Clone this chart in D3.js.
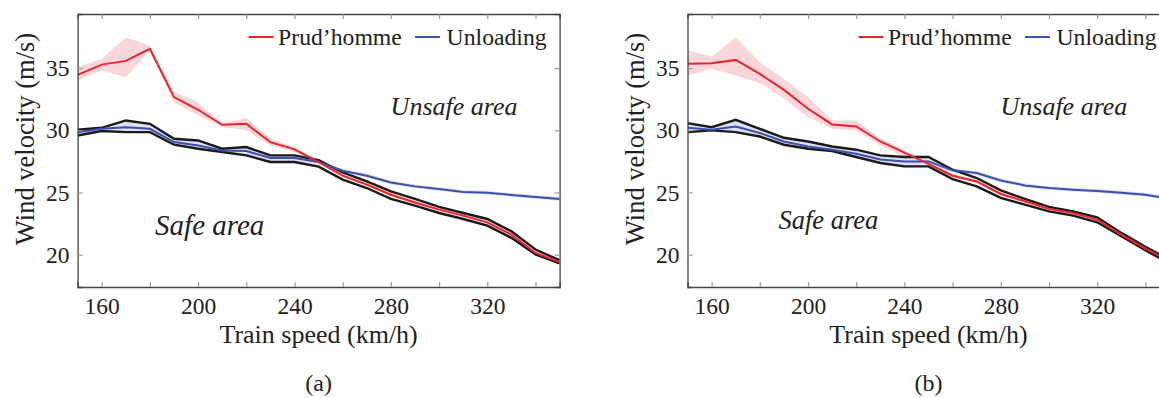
<!DOCTYPE html>
<html>
<head>
<meta charset="utf-8">
<script src="https://cdn.jsdelivr.net/npm/d3@7"></script>
<style>
  body { margin: 0; background: #fff; }
  svg text { font-family: "Liberation Serif", "Times New Roman", serif; fill: #222; }
</style>
</head>
<body>
<div class="graphContainer"></div>
<script>
// train speed (km/h)
var speeds = [150, 160, 170, 180, 190, 200, 210, 220, 230, 240, 250, 260, 270, 280, 290, 300, 310, 320, 330, 340, 350];
var xTicks = [160, 180, 200, 220, 240, 260, 280, 300, 320, 340];
var xLabels = [160, 200, 240, 280, 320];
var yTicks = [20, 25, 30, 35];

// panel (a)
var aRed    = [34.45, 35.28, 35.58, 36.54, 32.67, 31.65, 30.44, 30.52, 29.05, 28.47, 27.45, 26.35, 25.63, 24.82, 24.2, 23.62, 23.14, 22.6, 21.61, 20.14, 19.4];
var aRedHi  = [35.07, 35.74, 37.48, 36.8, 33.07, 32.26, 30.52, 31.0, 29.32, 28.65, 27.6, 26.5, 25.78, 24.97, 24.35, 23.77, 23.29, 22.75, 21.76, 20.29, 19.55];
var aRedLo  = [34.0, 34.8, 34.27, 36.4, 32.26, 31.19, 30.25, 30.0, 28.78, 28.25, 27.3, 26.2, 25.48, 24.67, 24.05, 23.47, 22.99, 22.45, 21.46, 19.99, 19.25];
var aBlue   = [29.85, 30.12, 30.25, 30.12, 29.05, 28.78, 28.38, 28.33, 27.77, 27.77, 27.45, 26.75, 26.35, 25.81, 25.49, 25.28, 25.04, 24.98, 24.8, 24.64, 24.48];
var aBlueHi = [30.04, 30.2, 30.79, 30.52, 29.32, 29.18, 28.52, 28.65, 27.98, 27.98, 27.6, 26.9, 26.5, 25.96, 25.64, 25.43, 25.19, 25.13, 24.95, 24.79, 24.63];
var aBlueLo = [29.58, 29.94, 29.85, 29.85, 28.84, 28.52, 28.25, 27.98, 27.45, 27.45, 27.2, 26.6, 26.2, 25.66, 25.34, 25.13, 24.89, 24.83, 24.65, 24.49, 24.33];
var aEnvHi  = [30.04, 30.2, 30.79, 30.52, 29.32, 29.18, 28.52, 28.65, 27.98, 27.98, 27.6, 26.61, 25.89, 25.09, 24.48, 23.84, 23.35, 22.87, 21.88, 20.41, 19.55];
var aEnvLo  = [29.58, 29.94, 29.85, 29.85, 28.84, 28.52, 28.25, 27.98, 27.45, 27.45, 27.08, 26.03, 25.36, 24.48, 23.94, 23.35, 22.87, 22.34, 21.35, 20.01, 19.29];

// panel (b)
var bRed    = [35.34, 35.39, 35.66, 34.53, 33.25, 31.73, 30.47, 30.31, 29.1, 28.2, 27.3, 26.35, 25.89, 24.88, 24.29, 23.68, 23.35, 22.82, 21.61, 20.49, 19.5];
var bRedHi  = [36.46, 35.92, 37.48, 35.47, 34.13, 32.67, 30.79, 30.79, 29.32, 28.38, 27.45, 26.5, 26.04, 25.03, 24.44, 23.83, 23.5, 22.97, 21.76, 20.64, 19.65];
var bRedLo  = [34.4, 34.94, 34.4, 33.79, 32.53, 31.06, 30.12, 29.99, 28.78, 27.85, 27.15, 26.2, 25.74, 24.73, 24.14, 23.53, 23.2, 22.67, 21.46, 20.34, 19.35];
var bBlue   = [30.2, 30.04, 30.31, 29.78, 29.1, 28.7, 28.44, 28.11, 27.66, 27.5, 27.5, 26.78, 26.56, 25.97, 25.57, 25.36, 25.22, 25.12, 24.98, 24.82, 24.5];
var bBlueHi = [30.58, 30.25, 30.84, 30.12, 29.4, 29.1, 28.7, 28.44, 27.98, 27.85, 27.75, 26.93, 26.71, 26.12, 25.72, 25.51, 25.37, 25.27, 25.13, 24.97, 24.65];
var bBlueLo = [29.85, 29.99, 29.85, 29.5, 28.84, 28.52, 28.33, 27.85, 27.37, 27.1, 27.25, 26.63, 26.41, 25.82, 25.42, 25.21, 25.07, 24.97, 24.83, 24.67, 24.35];
var bEnvHi  = [30.58, 30.25, 30.84, 30.12, 29.4, 29.1, 28.7, 28.44, 27.98, 27.85, 27.85, 26.83, 26.16, 25.17, 24.48, 23.84, 23.48, 23.0, 21.75, 20.63, 19.6];
var bEnvLo  = [29.85, 29.99, 29.85, 29.5, 28.84, 28.52, 28.33, 27.85, 27.37, 27.1, 27.1, 26.08, 25.49, 24.56, 24.02, 23.48, 23.14, 22.6, 21.48, 20.35, 19.3];

var W = 1159, H = 398;
var w = 482, h = 273;

var svg = d3.select(".graphContainer")
    .append("svg")
    .attr("width", W)
    .attr("height", H);

var x = d3.scaleLinear().domain([150, 350]).range([0, w]);
var y = d3.scaleLinear().domain([17.4, 39.35]).range([h, 0]);

function drawPanel(id, left, p) {
    var g = svg.append("g").attr("transform", "translate(" + left + ",14)");

    g.append("clipPath").attr("id", "clip" + id)
        .append("rect").attr("width", w).attr("height", h);

    var plot = g.append("g").attr("clip-path", "url(#clip" + id + ")");

    var area = function (lo, hi) {
        return d3.area()
            .x(function (d, i) { return x(speeds[i]); })
            .y0(function (d, i) { return y(lo[i]); })
            .y1(function (d, i) { return y(hi[i]); })(speeds);
    };
    var line = function (vals) {
        return d3.line()
            .x(function (d, i) { return x(speeds[i]); })
            .y(function (d) { return y(d); })(vals);
    };

    plot.append("path").attr("d", area(p.redLo, p.redHi)).attr("fill", "#f9d6d9");
    plot.append("path").attr("d", area(p.blueLo, p.blueHi)).attr("fill", "#dedff1");
    plot.append("path").attr("d", line(p.envHi)).attr("fill", "none").attr("stroke", "#1a1a1a").attr("stroke-width", 2.4);
    plot.append("path").attr("d", line(p.envLo)).attr("fill", "none").attr("stroke", "#1a1a1a").attr("stroke-width", 2.4);
    plot.append("path").attr("d", line(p.blue)).attr("fill", "none").attr("stroke", "#3a4fb0").attr("stroke-width", 2);
    plot.append("path").attr("d", line(p.red)).attr("fill", "none").attr("stroke", "#f0222a").attr("stroke-width", 2);

    // axes, ticks inward
    var bottom = d3.axisBottom(x).tickValues(xTicks).tickSize(-5).tickPadding(10)
        .tickFormat(function (d) { return xLabels.indexOf(d) >= 0 ? d : ""; });
    var top = d3.axisTop(x).tickValues(xTicks).tickSize(-5).tickFormat("");
    var leftAx = d3.axisLeft(y).tickValues(yTicks).tickSize(-5).tickPadding(8);
    var rightAx = d3.axisRight(y).tickValues(yTicks).tickSize(-5).tickFormat("");

    g.append("g").attr("transform", "translate(0," + h + ")").call(bottom);
    g.append("g").call(top);
    g.append("g").call(leftAx);
    g.append("g").attr("transform", "translate(" + w + ",0)").call(rightAx);

    g.selectAll(".domain").attr("stroke", "#444").attr("stroke-width", 1.3);
    g.selectAll(".tick line").attr("stroke", "#999").attr("stroke-width", 1.2);
    g.selectAll(".tick text").style("font-size", "23.5px").attr("fill", "#222")
        .style("font-family", "Liberation Serif");

    // legend
    var leg = g.append("g");
    leg.append("line").attr("x1", 171).attr("x2", 196).attr("y1", 23).attr("y2", 23)
        .attr("stroke", "#f0222a").attr("stroke-width", 2);
    leg.append("text").attr("x", 200.5).attr("y", 31).style("font-size", "23.7px").text("Prud\u2019homme");
    leg.append("line").attr("x1", 337.5).attr("x2", 362.5).attr("y1", 23).attr("y2", 23)
        .attr("stroke", "#3a4fb0").attr("stroke-width", 2);
    leg.append("text").attr("x", 369).attr("y", 31).style("font-size", "23.7px").text("Unloading");

    g.append("text").attr("x", 313).attr("y", 101).style("font-size", "26px")
        .style("font-style", "italic").attr("fill", "#333").text("Unsafe area");
    g.append("text").attr("x", p.safeX).attr("y", p.safeY).style("font-size", p.safeSize)
        .style("font-style", "italic").attr("fill", "#333").text("Safe area");

    // axis titles
    g.append("text").attr("x", w / 2).attr("y", 329).attr("text-anchor", "middle")
        .style("font-size", "26px").text("Train speed (km/h)");
    g.append("text").attr("transform", "translate(-44," + 125 + ") rotate(-90)")
        .attr("text-anchor", "middle").style("font-size", "26.5px").text("Wind velocity (m/s)");

    g.append("text").attr("x", w / 2).attr("y", 377).attr("text-anchor", "middle")
        .style("font-size", "24px").text(p.caption);
}

drawPanel("a", 77.6, {
    red: aRed, redHi: aRedHi, redLo: aRedLo,
    blue: aBlue, blueHi: aBlueHi, blueLo: aBlueLo,
    envHi: aEnvHi, envLo: aEnvLo,
    safeX: 77.5, safeY: 221, safeSize: "29px", caption: "(a)"
});

drawPanel("b", 687.5, {
    red: bRed, redHi: bRedHi, redLo: bRedLo,
    blue: bBlue, blueHi: bBlueHi, blueLo: bBlueLo,
    envHi: bEnvHi, envLo: bEnvLo,
    safeX: 91, safeY: 214.5, safeSize: "26.5px", caption: "(b)"
});
</script>
</body>
</html>
